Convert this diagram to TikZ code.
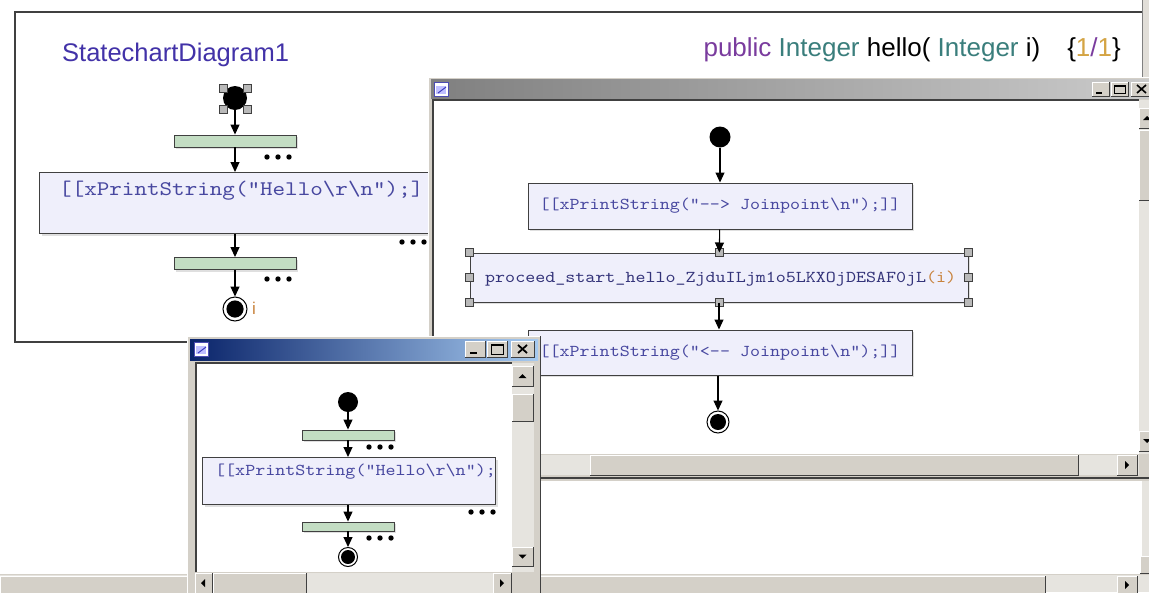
\documentclass[tikz,border=0pt]{standalone}
\usepackage{fontspec}
\setmainfont{Liberation Sans}
\newfontfamily\codefont[FakeStretch=1.15]{lmmono10-regular.otf}
\usetikzlibrary{arrows.meta,shadows,calc}

\definecolor{guigray}{HTML}{D4D0C8}
\definecolor{guidark}{HTML}{808080}
\definecolor{guidarker}{HTML}{404040}
\definecolor{track}{HTML}{E6E4DF}
\definecolor{actfill}{HTML}{EFEFFB}
\definecolor{barfill}{HTML}{C3DDC3}
\definecolor{codeblue}{HTML}{4848A0}
\definecolor{codedark}{HTML}{34347A}
\definecolor{argorange}{HTML}{C8823C}
\definecolor{titleblue}{HTML}{4232A8}
\definecolor{kwpurple}{HTML}{7A3C9E}
\definecolor{typeteal}{HTML}{3A7E7C}
\definecolor{numtan}{HTML}{D4A444}
\definecolor{activeL}{HTML}{0A246A}
\definecolor{activeR}{HTML}{A6CAF0}
\definecolor{inactL}{HTML}{808080}
\definecolor{inactR}{HTML}{CACACA}

% raised Windows-style button face: x1 y1 x2 y2
\newcommand\guibutton[4]{%
  \fill[guigray] (#1,#2) rectangle (#3,#4);
  \draw[white, line width=1] (#1,#4) -- (#1,#2) -- (#3,#2);
  \draw[guidarker, line width=1] (#1,#4) -- (#3,#4) -- (#3,#2);
}
% small arrow glyphs centred on x y
\newcommand\upglyph[2]{\fill[black] (#1-4,#2+2) -- (#1+4,#2+2) -- (#1,#2-2) -- cycle;}
\newcommand\downglyph[2]{\fill[black] (#1-4,#2-2) -- (#1+4,#2-2) -- (#1,#2+2) -- cycle;}
\newcommand\rightglyph[2]{\fill[black] (#1-2,#2-4) -- (#1-2,#2+4) -- (#1+2,#2) -- cycle;}
\newcommand\leftglyph[2]{\fill[black] (#1+2,#2-4) -- (#1+2,#2+4) -- (#1-2,#2) -- cycle;}
% window icon at its top-left corner
\newcommand\winicon[2]{%
  \fill[white] (#1,#2) rectangle (#1+14,#2+14);
  \draw[blue!40!gray, line width=1] (#1,#2) rectangle (#1+14,#2+14);
  \fill[blue!25] (#1+2,#2+4) rectangle (#1+12,#2+12);
  \draw[blue!50!gray, line width=1] (#1+4,#2+11) -- (#1+12,#2+5);
}

\tikzset{
  flow/.style={draw=black, line width=1.1, -{Triangle[width=9pt,length=10pt]}},
  startdot/.style={circle, fill=black, inner sep=0, minimum size=#1},
  enddot/.style={circle, draw=black, line width=1, fill=white, inner sep=0, minimum size=#1},
  handle/.style={rectangle, draw=guidarker, fill=gray!55, line width=0.8, inner sep=0, minimum size=8},
  forkbar/.style={rectangle, draw=guidarker, fill=barfill, line width=0.9, inner sep=0,
    drop shadow={shadow xshift=2pt, shadow yshift=-2pt, opacity=.25}},
  actbox/.style={rectangle, draw=guidarker, fill=actfill, line width=1, inner sep=0,
    drop shadow={shadow xshift=2pt, shadow yshift=-2pt, opacity=.25}},
  code/.style={inner sep=0, text=codeblue},
  more/.pic={\foreach \k in {-11,0,11} \fill[black] (\k,0) circle (2.7);},
}

\begin{document}
\begin{tikzpicture}[x=1pt,y=-1pt]
\useasboundingbox (0,0) rectangle (1149,592);
\fill[white] (0,0) rectangle (1149,592);

% ---------- outer canvas ----------
\fill[guigray!70] (1142,0) rectangle (1149,78);
\draw[guidark] (1142,0) -- (1142,78);
\draw[guidarker, line width=1.2] (1142,12) -- (15,12) -- (15,342) -- (190,342);

\node[anchor=west, inner sep=0, text=titleblue, font=\fontsize{25.5}{30}\selectfont] (title) at (62,55) {StatechartDiagram1};
\node[anchor=east, inner sep=0, font=\fontsize{26}{30}\selectfont] (sig) at (1121,50)
  {\textcolor{kwpurple}{public} \textcolor{typeteal}{Integer} hello( \textcolor{typeteal}{Integer} i)\hspace{27pt}\{\textcolor{numtan}{1}\textcolor{kwpurple}{/}\textcolor{numtan}{1}\}};

% ---------- StatechartDiagram1 ----------
\node[startdot=24] (s1) at (235,98) {};
\node[handle] (h1) at (223,88) {};
\node[handle] (h2) at (247,88) {};
\node[handle] (h3) at (223,109) {};
\node[handle] (h4) at (247,109) {};
\node[forkbar, minimum width=122, minimum height=12] (b1) at (235,141) {};
\pic at (278,157) {more};
\node[actbox, anchor=north west, minimum width=440, minimum height=61] (a1) at (39,172) {};
\node[code, anchor=west, font=\codefont\fontsize{20.8}{24}\selectfont] (t1) at (59,191)
  {[[xPrintString("Hello\textbackslash r\textbackslash n");]};
\pic at (413,242) {more};
\node[forkbar, minimum width=122, minimum height=12] (b2) at (235,263.5) {};
\pic at (278,279) {more};
\node[enddot=24] (e1) at (235,309) {};
\fill[black] (e1.center) circle (8.6);
\node[anchor=west, inner sep=0, text=argorange, font=\fontsize{17}{20}\selectfont] (ilab) at (252,308) {i};

\draw[flow] (s1) -- (b1);
\draw[flow] (b1) -- (a1.north -| b1);
\draw[flow] (a1.south -| b2) -- (b2);
\draw[flow] (b2) -- (e1);

% ---------- outer scrollbars ----------
\fill[track] (0,575) rectangle (1149,592);
\guibutton{0}{576}{1045}{593}
\guibutton{1117}{576}{1137}{593}
\rightglyph{1127}{585}
\fill[track] (1142,480) rectangle (1149,575);
\guibutton{1140}{556}{1152}{573}
\draw[guigray, line width=1] (0,574.5) -- (1149,574.5);

% ---------- method window ----------
\fill[guigray] (428,77) rectangle (1149,481);
\draw[white] (428.5,481) -- (428.5,77.5) -- (1149,77.5);
\shade[left color=inactL, right color=inactR] (431,79) rectangle (1149,98);
\winicon{434}{82}
\guibutton{1092}{82}{1109}{96}
\draw[black, line width=2] (1096,93) -- (1102,93);
\guibutton{1111}{82}{1128}{96}
\draw[black, line width=1] (1114,85.5) rectangle (1125,93);
\draw[black, line width=2] (1114,85.5) -- (1125,85.5);
\guibutton{1131}{82}{1152}{96}
\draw[black, line width=1.6] (1137,85) -- (1146,93) (1146,85) -- (1137,93);
\fill[white] (433,100) rectangle (1139,454);
\draw[guidarker, line width=1.6] (433,454) -- (433,100) -- (1139,100);
% vertical scrollbar
\fill[track] (1139,100) rectangle (1149,454);
\guibutton{1139}{108}{1159}{128}
\upglyph{1147}{118}
\guibutton{1139}{130}{1159}{200}
\guibutton{1139}{431}{1159}{451}
\downglyph{1147}{441}
% horizontal scrollbar
\fill[track] (433,455) rectangle (1139,475);
\guibutton{590}{455}{1078}{475}
\guibutton{1117}{455}{1137}{475}
\rightglyph{1127}{465}
\draw[guidarker, line width=1.5] (428,478) -- (1149,478);

% ---------- method activity ----------
\node[startdot=21] (s2) at (720,137) {};
\node[actbox, minimum width=384, minimum height=46] (a2) at (720,206) {};
\node[code, font=\codefont\fontsize{16.6}{20}\selectfont] (t2) at (a2.center)
  {[[xPrintString("-{}-> Joinpoint\textbackslash n");]]};
\node[actbox, minimum width=498, minimum height=49] (p) at (719,277.5) {};
\node[code, text=codedark, anchor=west, font=\codefont\fontsize{16.6}{20}\selectfont] (tp) at (485,279)
  {proceed\_start\_hello\_ZjduILjm1o5LKXOjDESAF0jL\textcolor{argorange}{(i)}};
\foreach \a [count=\n] in {north west,north,north east,west,east,south west,south,south east}
  \node[handle] (ph\n) at (p.\a) {};
\node[actbox, minimum width=384, minimum height=45] (a3) at (720,352.5) {};
\node[code, font=\codefont\fontsize{16.6}{20}\selectfont] (t3) at (a3.center)
  {[[xPrintString("<-{}- Joinpoint\textbackslash n");]]};
\node[enddot=22] (e2) at (718,422) {};
\fill[black] (e2.center) circle (8);

\draw[flow] (s2) -- (a2);
\draw[flow] (a2) -- (p);
\draw[flow] (p.south) -- (a3.north -| p.south);
\draw[flow] (a3.south -| e2) -- (e2);

% ---------- small window ----------
\fill[guigray] (187,336) rectangle (541,593);
\draw[white] (187.5,593) -- (187.5,336.5) -- (541,336.5);
\draw[guidarker] (540.5,336) -- (540.5,593);
\shade[left color=activeL, right color=activeR] (190,339) rectangle (538,360);
\winicon{194}{342}
\guibutton{465}{341}{485}{357}
\draw[black, line width=2] (470,353) -- (477,353);
\guibutton{487}{341}{507}{357}
\draw[black, line width=1] (491,344.5) rectangle (503,354);
\draw[black, line width=2] (491,344.5) -- (503,344.5);
\guibutton{511}{341}{534}{357}
\draw[black, line width=1.8] (518,345) -- (527,353) (527,345) -- (518,353);
\fill[white] (195,363) rectangle (512,572);
\draw[guidarker, line width=1.6] (196,572) -- (196,363) -- (512,363);
% vertical scrollbar
\fill[track] (512,363) rectangle (534,572);
\guibutton{512}{366}{533}{386}
\upglyph{522.5}{376}
\guibutton{512}{394}{533}{421}
\guibutton{512}{547}{533}{566}
\downglyph{522.5}{556.5}
% horizontal scrollbar
\fill[track] (195,573) rectangle (512,593);
\guibutton{195}{573}{212}{593}
\leftglyph{203}{583}
\guibutton{213}{573}{306}{593}
\guibutton{493}{573}{511}{593}
\rightglyph{502}{583}

% ---------- small activity ----------
\node[startdot=20] (s3) at (348,402) {};
\node[forkbar, minimum width=92, minimum height=10] (b3) at (348,435) {};
\pic at (380,447) {more};
\node[actbox, anchor=north west, minimum width=293, minimum height=47] (a4) at (202,457) {};
\node[code, anchor=west, font=\codefont\fontsize{16.6}{20}\selectfont] (t4) at (215,472)
  {[[xPrintString("Hello\textbackslash r\textbackslash n");};
\pic at (482,512) {more};
\node[forkbar, minimum width=92, minimum height=9] (b4) at (348,526.5) {};
\pic at (380,538) {more};
\node[enddot=19] (e3) at (348,557) {};
\fill[black] (e3.center) circle (7);

\draw[flow] (s3) -- (b3);
\draw[flow] (b3) -- (a4.north -| b3);
\draw[flow] (a4.south -| b4) -- (b4);
\draw[flow] (b4) -- (e3);
\end{tikzpicture}
\end{document}
